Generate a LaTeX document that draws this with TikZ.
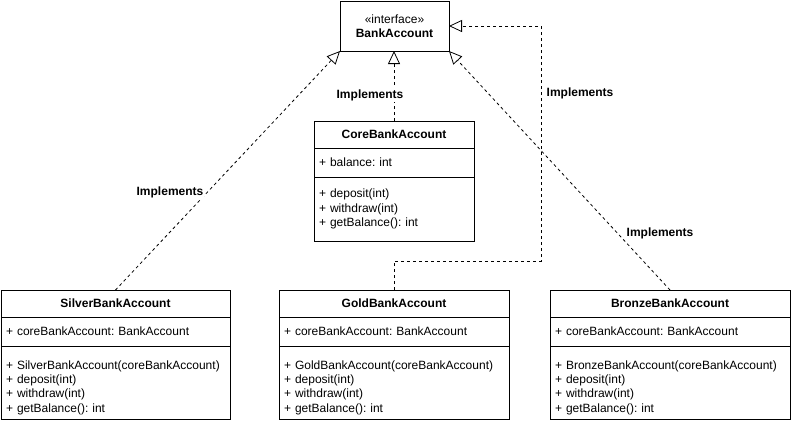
\documentclass[tikz,border=0pt]{standalone}
\usepackage{fontspec}
\setmainfont{Liberation Sans}
\frenchspacing
\usetikzlibrary{positioning, arrows.meta}

\begin{document}
\begin{tikzpicture}[
x=1pt, y=-1pt,
every node/.style={font=\fontsize{12}{14.4}\selectfont},
box/.style={draw, line width=1pt, inner xsep=5pt, inner ysep=0pt, outer sep=0pt},
head/.style={box, font=\fontsize{12}{14.4}\selectfont\bfseries, align=center, minimum height=27pt, anchor=north west},
attr/.style={box, align=left, minimum height=29pt},
ops/.style={box, align=left},
impl/.style={-{Triangle[open, length=13pt, width=12pt]}, dash pattern=on 3pt off 3pt, line width=0.8pt},
lbl/.style={font=\fontsize{12}{14.4}\selectfont\bfseries, fill=white, inner sep=1pt}
]
\useasboundingbox (0,0) rectangle (791,424);

% interface
\node[box, anchor=north west, minimum width=109pt, minimum height=50pt, align=center] (bank) at (340,1) {«interface»\\\textbf{BankAccount}};

% core class
\node[head, text width=150pt] (corehead) at (314,121) {CoreBankAccount};
\node[attr, text width=150pt, below=0pt of corehead] (coreattr) {+ balance: int};
\node[ops, text width=150pt, minimum height=64pt, below=0pt of coreattr] (coreops) {+ deposit(int)\\+ withdraw(int)\\+ getBalance(): int};

% decorators
\node[head, text width=219pt] (silverhead) at (1,290) {SilverBankAccount};
\node[attr, text width=219pt, below=0pt of silverhead] (silverattr) {+ coreBankAccount: BankAccount};
\node[ops, text width=219pt, minimum height=73pt, below=0pt of silverattr] (silverops) {\rule{0pt}{19pt}+ SilverBankAccount(coreBankAccount)\\+ deposit(int)\\+ withdraw(int)\\+ getBalance(): int};

\node[head, text width=220pt] (goldhead) at (279,290) {GoldBankAccount};
\node[attr, text width=220pt, below=0pt of goldhead] (goldattr) {+ coreBankAccount: BankAccount};
\node[ops, text width=220pt, minimum height=73pt, below=0pt of goldattr] (goldops) {\rule{0pt}{19pt}+ GoldBankAccount(coreBankAccount)\\+ deposit(int)\\+ withdraw(int)\\+ getBalance(): int};

\node[head, text width=230pt] (bronzehead) at (550,290) {BronzeBankAccount};
\node[attr, text width=230pt, below=0pt of bronzehead] (bronzeattr) {+ coreBankAccount: BankAccount};
\node[ops, text width=230pt, minimum height=73pt, below=0pt of bronzeattr] (bronzeops) {\rule{0pt}{19pt}+ BronzeBankAccount(coreBankAccount)\\+ deposit(int)\\+ withdraw(int)\\+ getBalance(): int};

% realizations
\coordinate (goldturn) at (541,261);
\draw[impl] (silverhead.north) -- (bank.south west);
\draw[impl] (corehead.north) -- (corehead.north |- bank.south);
\draw[impl] (bronzehead.north) -- (bank.south east);
\draw[impl] (goldhead.north) |- (goldturn) |- (bank.east);

\node[lbl] (silverlbl) at (170,192) {Implements};
\node[lbl] (corelbl) at (370,95) {Implements};
\node[lbl] (goldlbl) at (580,93) {Implements};
\node[lbl] (bronzelbl) at (660,233) {Implements};

\end{tikzpicture}
\end{document}
